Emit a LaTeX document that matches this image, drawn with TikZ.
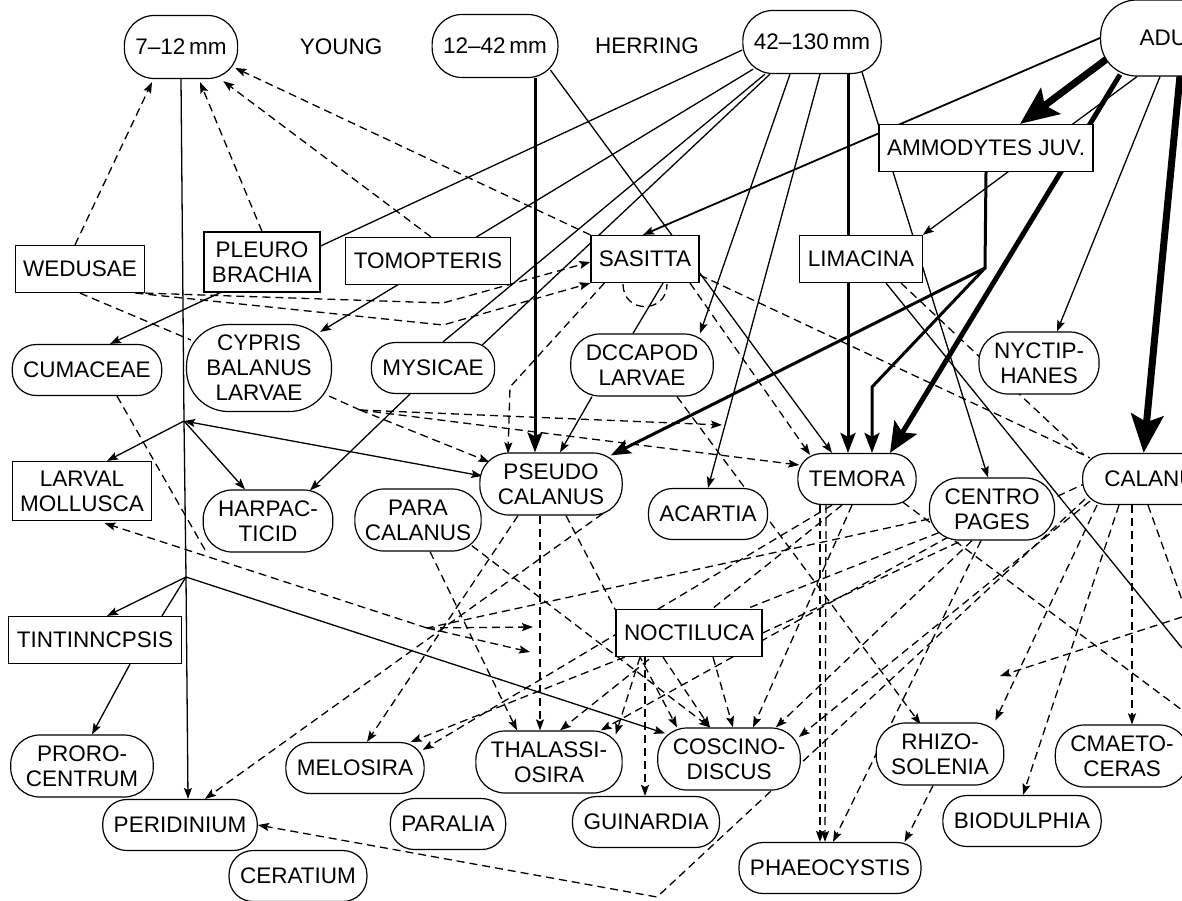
\documentclass[tikz,border=0pt]{standalone}
\usepackage{fontspec}
\setmainfont{Liberation Sans}
\usetikzlibrary{arrows.meta,calc,backgrounds}

\begin{document}
\begin{tikzpicture}[x=1pt, y=-1pt]
%define
\tikzstyle{box} = [rectangle, draw=black, fill=white, line width=1.2pt, align=center, font=\fontsize{22.5}{25}\selectfont, inner xsep=8pt, inner ysep=3pt, minimum height=47pt]
\tikzstyle{pill} = [box, rounded corners=24pt, inner xsep=11pt, minimum height=51pt]
\tikzstyle{pilltwo} = [box, rounded corners=29pt, inner xsep=15pt, minimum height=62pt]
\tikzstyle{toppill} = [box, rounded corners=30pt, inner xsep=11pt, minimum height=63pt]
\tikzstyle{headtext} = [font=\fontsize{22.5}{25}\selectfont]
\tikzstyle{arrow} = [-{Stealth[length=11pt,width=8pt,inset=2pt]}, line width=1.3pt]
\tikzstyle{biarrow} = [{Stealth[length=11pt,width=8pt,inset=2pt]}-{Stealth[length=11pt,width=8pt,inset=2pt]}, line width=1.3pt]
\tikzstyle{link} = [line width=1.3pt]
\tikzstyle{darrow} = [arrow, dash pattern=on 8pt off 5pt]
\tikzstyle{dlink} = [link, dash pattern=on 8pt off 5pt]
\tikzstyle{heavy} = [-{Stealth[length=20pt,width=15pt,inset=4pt]}, line width=3pt]
\tikzstyle{bigger} = [-{Stealth[length=30pt,width=26pt,inset=6pt]}, line width=5pt]
\tikzstyle{huge} = [-{Stealth[length=38pt,width=32pt,inset=7pt]}, line width=7pt]

\useasboundingbox (0,0) rectangle (1182,900);

% herring stages
\node[toppill] (fish_7) at (181,47) {7–12\,mm};
\node[headtext] (lbl_Young) at (341,47) {YOUNG};
\node[toppill] (fish_12) at (495,46) {12–42\,mm};
\node[headtext] (lbl_Herring) at (647,46) {HERRING};
\node[toppill] (fish_42) at (812,42) {42–130\,mm};
\node[toppill, anchor=west, minimum width=150pt, minimum height=76pt, rounded corners=36pt] (fish_Adult) at (1100,38) {ADULT};

% prey
\node[box] (sp_Wedusae) at (80,269) {WEDUSAE};
\node[box, minimum height=60pt] (sp_Pleuro) at (262,262) {PLEURO\\BRACHIA};
\node[box] (sp_Tomopteris) at (428,261) {TOMOPTERIS};
\node[box] (sp_Sasitta) at (645,259) {SASITTA};
\node[box] (sp_Limacina) at (861,259) {LIMACINA};
\node[box] (sp_Ammodytes) at (986,148) {AMMODYTES JUV.};

\node[pill] (sp_Cumaceae) at (87,370) {CUMACEAE};
\node[pill, rounded corners=42pt, minimum height=87pt, inner xsep=20pt] (sp_Cypris) at (259,368) {CYPRIS\\BALANUS\\LARVAE};
\node[pill] (sp_Mysicae) at (433,368) {MYSICAE};
\node[pilltwo] (sp_Decapod) at (642,365) {DCCAPOD\\LARVAE};
\node[pilltwo] (sp_Nyctiphanes) at (1039,363) {NYCTIP-\\HANES};

\node[box, minimum height=59pt] (sp_Larval) at (82,491) {LARVAL\\MOLLUSCA};
\node[pilltwo] (sp_Harpac) at (268,521) {HARPAC-\\TICID};
\node[pilltwo, inner xsep=10pt] (sp_Para) at (418,520) {PARA\\CALANUS};
\node[pilltwo, inner xsep=18pt] (sp_Pseudo) at (551,484) {PSEUDO\\CALANUS};
\node[pill] (sp_Acartia) at (708,514) {ACARTIA};
\node[pill] (sp_Temora) at (857,479) {TEMORA};
\node[pilltwo] (sp_Centro) at (992,509) {CENTRO\\PAGES};
\node[pill, anchor=west, minimum width=150pt] (sp_Calanus) at (1082,479) {CALANUS};

\node[box] (sp_Tintin) at (95,640) {TINTINNCPSIS};
\node[box] (sp_Noctiluca) at (689,633) {NOCTILUCA};

\node[pilltwo] (sp_Proro) at (82,766) {PRORO-\\CENTRUM};
\node[pill] (sp_Melosira) at (355,768) {MELOSIRA};
\node[pilltwo] (sp_Thalassi) at (549,762) {THALASSI-\\OSIRA};
\node[pilltwo] (sp_Coscino) at (729,759) {COSCINO-\\DISCUS};
\node[pilltwo] (sp_Rhizo) at (940,754) {RHIZO-\\SOLENIA};
\node[pilltwo] (sp_Cmaeto) at (1122,756) {CMAETO-\\CERAS};
\node[pill] (sp_Peridinium) at (180,825) {PERIDINIUM};
\node[pill] (sp_Paralia) at (448,824) {PARALIA};
\node[pill] (sp_Guinardia) at (646,822) {GUINARDIA};
\node[pill] (sp_Biodulphia) at (1022,821) {BIODULPHIA};
\node[pill] (sp_Ceratium) at (298,876) {CERATIUM};
\node[pill] (sp_Phaeo) at (830,868) {PHAEOCYSTIS};

% branch points
\coordinate (hub_A) at (184,421);
\coordinate (hub_B) at (186,577);
\coordinate (hub_C) at (985,268);
\coordinate (hub_D) at (872,387);
\coordinate (hub_E) at (443,303);
\coordinate (hub_F) at (443,325);
\coordinate (hub_G) at (360,410);
\coordinate (hub_H) at (510,387);
\coordinate (hub_I) at (427,628);
\coordinate (tip_A) at (722,425);
\coordinate (tip_B) at (533,627);
\coordinate (tip_C) at (530,652);
\coordinate (tip_E) at (1000,676);
\coordinate (edge_R) at (1182,617);
\coordinate (edge_S) at (1182,710);
\coordinate (edge_T) at (1182,600);
\coordinate (edge_V) at (1182,648);
\coordinate (bend_P) at (657,897);

\begin{pgfonlayer}{background}
% feeding of young herring
\draw[arrow] (fish_7.south) -- (hub_A) -- (hub_B) -- ($(sp_Peridinium.north)+(8,0)$);
\draw[arrow] (hub_A) -- ($(sp_Larval.north)+(25,0)$);
\draw[arrow] (hub_A) -- ($(sp_Harpac.north)+(-23,0)$);
\draw[biarrow] (hub_A) -- ($(sp_Pseudo.west)+(3,-8)$);
\draw[arrow] ($(sp_Mysicae.south)+(-23,0)$) -- ($(sp_Harpac.north)+(42,1)$);
\draw[arrow] (hub_B) -- ($(sp_Tintin.north)+(12,0)$);
\draw[link] (hub_B) -- ($(sp_Tintin.north)+(67,0)$);
\draw[arrow] (hub_B) -- ($(sp_Coscino.north west)+(8,6)$);
\draw[arrow] ($(sp_Tintin.south)+(35,0)$) -- ($(sp_Proro.north)+(10,0)$);
\draw[dlink] ($(sp_Cumaceae.south)+(30,0)$) -- ($(sp_Harpac.south west)+(4,0)$);
\draw[heavy] ($(fish_12.south)+(40,0)$) -- ($(sp_Pseudo.north)+(-16,0)$);
\draw[arrow] ($(fish_12.south east)+(-8,-8)$) -- ($(sp_Temora.north)+(-25,0)$);

% 42-130 mm
\draw[arrow] ($(fish_42.west)+(0,8)$) -- ($(sp_Cumaceae.north)+(23,0)$);
\draw[arrow] ($(fish_42.south west)+(11,-5)$) -- ($(sp_Cypris.north east)+(-12,8)$);
\draw[link] ($(fish_42.south)+(-47,0)$) -- ($(sp_Mysicae.north)+(10,0)$);
\draw[link] ($(fish_42.south)+(-42,0)$) -- ($(sp_Mysicae.north east)+(-14,4)$);
\draw[arrow] ($(fish_42.south)+(-22,0)$) -- ($(sp_Decapod.north)+(58,0)$);
\draw[arrow] ($(fish_42.south)+(8,0)$) -- (sp_Acartia.north);
\draw[heavy] ($(fish_42.south)+(36,0)$) -- ($(sp_Temora.north)+(-9,0)$);
\draw[arrow] ($(fish_42.south)+(50,-2)$) -- ($(sp_Centro.north)+(-4,0)$);
\draw[link] ($(sp_Sasitta.south)+(18,0)$) -- ($(sp_Decapod.north)+(-9,0)$);
\draw[dlink] ($(sp_Sasitta.south)+(-22,1)$) .. controls +(0,30) and +(0,30) .. ($(sp_Sasitta.south)+(22,1)$);

% adult
\draw[huge] ($(fish_Adult.west)+(8,20)$) -- ($(sp_Ammodytes.north)+(34,0)$);
\draw[arrow, line width=1.8pt] (fish_Adult.west) -- ($(sp_Sasitta.north)+(-2,0)$);
\draw[arrow] ($(fish_Adult.south west)+(37,0)$) -- (sp_Limacina.north east);
\draw[arrow] ($(fish_Adult.south west)+(60,0)$) -- ($(sp_Nyctiphanes.north)+(18,0)$);
\draw[bigger] ($(fish_Adult.south west)+(20,-2)$) -- ($(sp_Temora.north)+(33,0)$);
\draw[huge] ($(fish_Adult.south west)+(80,-1)$) -- ($(sp_Calanus.north)+(-14,0)$);
\draw[heavy] (sp_Ammodytes.south) -- (hub_C) -- ($(sp_Pseudo.north east)+(-12,3)$);
\draw[heavy] (hub_C) -- (hub_D) -- ($(sp_Temora.north)+(15,0)$);

% eaten by young herring
\draw[darrow] ($(sp_Wedusae.north)+(-5,0)$) -- ($(fish_7.south)+(-29,3)$);
\draw[darrow] (sp_Pleuro.north) -- ($(fish_7.south)+(19,3)$);
\draw[darrow] ($(sp_Tomopteris.north)+(3,0)$) -- ($(fish_7.south east)+(-15,2)$);
\draw[darrow] (sp_Sasitta.north west) -- ($(fish_7.east)+(-3,21)$);

% sasitta
\draw[darrow] (sp_Wedusae.south east) -- (hub_E) -- ($(sp_Sasitta.west)+(0,3)$);
\draw[darrow] ($(sp_Wedusae.south east)+(-10,0)$) -- (hub_F) -- (sp_Sasitta.south west);
\draw[dlink] (sp_Wedusae.south) -- ($(sp_Cypris.west)+(5,-28)$);
\draw[darrow] ($(sp_Sasitta.south west)+(14,0)$) -- (hub_H) -- ($(sp_Pseudo.north)+(-43,1)$);
\draw[darrow] ($(sp_Sasitta.south)+(45,0)$) -- ($(sp_Temora.north)+(-47,2)$);
\draw[dlink] ($(sp_Sasitta.east)+(0,16)$) -- ($(sp_Calanus.north west)+(8,5)$);

% limacina
\draw[dlink] ($(sp_Limacina.south)+(40,0)$) -- ($(sp_Calanus.north west)+(2,2)$);
\draw[link] ($(sp_Limacina.south)+(25,0)$) -- (edge_V);

% cypris
\draw[dlink] ($(sp_Cypris.south east)+(-3,-16)$) -- (hub_G);
\draw[darrow] (hub_G) -- ($(sp_Pseudo.west)+(10,-22)$);
\draw[darrow] (hub_G) -- (tip_A);
\draw[darrow] (hub_G) -- ($(sp_Temora.west)+(2,-14)$);

% decapod
\draw[arrow] ($(sp_Decapod.south)+(-50,0)$) -- ($(sp_Pseudo.north)+(9,0)$);
\draw[darrow] ($(sp_Decapod.south)+(35,0)$) -- ($(sp_Rhizo.north west)+(45,2)$);

% pseudo and para
\draw[darrow] ($(sp_Pseudo.south)+(-33,0)$) -- ($(sp_Melosira.north)+(12,0)$);
\draw[darrow] ($(sp_Pseudo.south)+(-11,0)$) -- ($(sp_Thalassi.north)+(-9,0)$);
\draw[darrow] ($(sp_Pseudo.south)+(15,0)$) -- ($(sp_Coscino.north)+(-52,0)$);
\draw[darrow] ($(sp_Pseudo.south east)+(-20,-2)$) -- ($(sp_Peridinium.north)+(25,0)$);
\draw[darrow] ($(sp_Para.south)+(12,0)$) -- ($(sp_Thalassi.north)+(-32,0)$);
\draw[darrow] ($(sp_Para.south east)+(-10,-6)$) -- ($(sp_Coscino.north)+(-19,0)$);

% temora
\draw[darrow] ($(sp_Temora.south)+(-25,0)$) -- ($(sp_Melosira.north east)+(-2,8)$);
\draw[darrow] ($(sp_Temora.south)+(-15,0)$) -- ($(sp_Thalassi.north)+(11,0)$);
\draw[darrow] ($(sp_Temora.south)+(-5,0)$) -- ($(sp_Coscino.north)+(24,0)$);
\draw[darrow] ($(sp_Temora.south)+(-37,0)$) -- ($(sp_Phaeo.north)+(-10,0)$);
\draw[darrow] ($(sp_Temora.south)+(-31,0)$) -- ($(sp_Phaeo.north)+(-5,0)$);
\draw[dlink] ($(sp_Temora.south east)+(-14,-3)$) -- (edge_S);

% centropages
\draw[dlink] ($(sp_Centro.west)+(0,10)$) -- (hub_I);
\draw[darrow] (hub_I) -- ($(sp_Larval.south east)+(-48,2)$);
\draw[darrow] (hub_I) -- (tip_B);
\draw[darrow] (hub_I) -- (tip_C);
\draw[darrow] ($(sp_Centro.south west)+(10,-8)$) -- ($(sp_Melosira.north east)+(-14,0)$);
\draw[darrow] ($(sp_Centro.south west)+(20,-4)$) -- ($(sp_Thalassi.north east)+(-22,0)$);
\draw[darrow] ($(sp_Centro.south)+(-20,0)$) -- ($(sp_Coscino.north east)+(-25,0)$);
\draw[darrow] ($(sp_Centro.south)+(-11,0)$) -- ($(sp_Phaeo.north)+(3,0)$);

% noctiluca
\draw[darrow] ($(sp_Noctiluca.south)+(-49,0)$) -- ($(sp_Thalassi.north east)+(-7,4)$);
\draw[darrow] ($(sp_Noctiluca.south)+(-44,0)$) -- ($(sp_Guinardia.north)+(-1,0)$);
\draw[darrow] ($(sp_Noctiluca.south)+(-26,0)$) -- ($(sp_Coscino.north)+(-19,0)$);
\draw[darrow] ($(sp_Noctiluca.south)+(24,0)$) -- ($(sp_Coscino.north)+(4,0)$);
\draw[dlink] (sp_Noctiluca.east) -- ($(sp_Calanus.west)+(4,4)$);

% calanus
\draw[darrow] ($(sp_Calanus.south west)+(8,-4)$) -- ($(sp_Coscino.east)+(-2,-22)$);
\draw[darrow] ($(sp_Calanus.south west)+(15,0)$) -- ($(sp_Rhizo.north east)+(-9,-2)$);
\draw[darrow] ($(sp_Calanus.south west)+(37,0)$) -- ($(sp_Biodulphia.north)+(1,0)$);
\draw[darrow] ($(sp_Calanus.south west)+(50,0)$) -- ($(sp_Cmaeto.north)+(10,0)$);
\draw[darrow] ($(sp_Calanus.south west)+(3,-6)$) -- (bend_P) -- (sp_Peridinium.east);
\draw[dlink] ($(sp_Calanus.south west)+(66,0)$) -- (edge_T);
\draw[darrow] (edge_R) -- (tip_E);
\draw[darrow] ($(sp_Rhizo.south)+(-7,0)$) -- ($(sp_Phaeo.north east)+(-17,0)$);
\end{pgfonlayer}

\end{tikzpicture}
\end{document}
